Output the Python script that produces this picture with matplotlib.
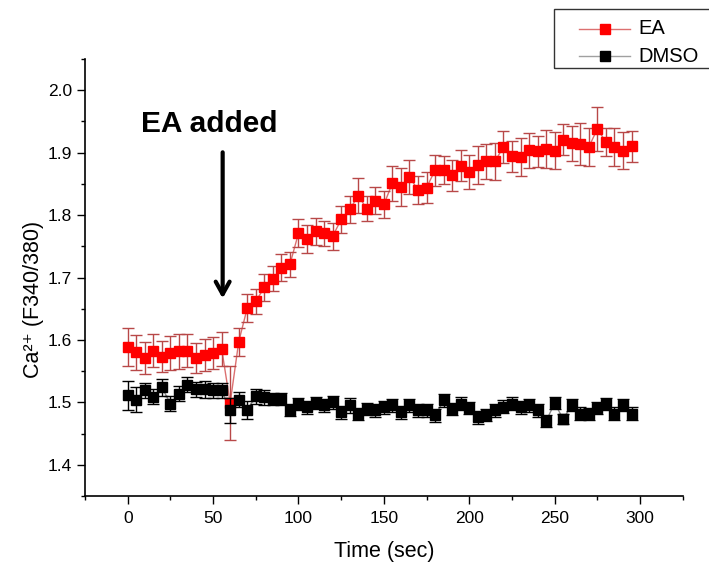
import matplotlib
matplotlib.use("Agg")
import matplotlib.pyplot as plt
from matplotlib.lines import Line2D
from matplotlib.patches import Rectangle
import numpy as np

plt.rcParams['font.family'] = ['Liberation Sans', 'DejaVu Sans']

time_sec = list(range(0, 300, 5))

ea_mean = [1.589, 1.580, 1.571, 1.583, 1.573, 1.579, 1.582, 1.583, 1.571, 1.576,
           1.579, 1.586, 1.499, 1.597, 1.651, 1.662, 1.684, 1.698, 1.716, 1.721,
           1.771, 1.762, 1.774, 1.771, 1.766, 1.793, 1.809, 1.831, 1.810, 1.823,
           1.817, 1.851, 1.845, 1.861, 1.840, 1.844, 1.872, 1.872, 1.864, 1.879,
           1.869, 1.880, 1.886, 1.886, 1.909, 1.894, 1.893, 1.904, 1.902, 1.906,
           1.903, 1.921, 1.915, 1.914, 1.909, 1.938, 1.917, 1.909, 1.903, 1.910]
ea_err = [0.030, 0.028, 0.025, 0.026, 0.025, 0.027, 0.028, 0.026, 0.024, 0.026,
          0.025, 0.027, 0.060, 0.022, 0.022, 0.020, 0.022, 0.020, 0.022, 0.020,
          0.022, 0.022, 0.022, 0.020, 0.022, 0.022, 0.022, 0.028, 0.020, 0.022,
          0.022, 0.028, 0.030, 0.028, 0.022, 0.025, 0.025, 0.022, 0.025, 0.025,
          0.028, 0.030, 0.028, 0.030, 0.025, 0.025, 0.030, 0.028, 0.025, 0.030,
          0.030, 0.025, 0.028, 0.033, 0.030, 0.035, 0.022, 0.031, 0.030, 0.025]

dmso_mean = [1.511, 1.504, 1.519, 1.509, 1.524, 1.498, 1.514, 1.528, 1.521, 1.521,
             1.519, 1.519, 1.487, 1.504, 1.488, 1.510, 1.508, 1.505, 1.505, 1.488,
             1.497, 1.492, 1.499, 1.495, 1.500, 1.484, 1.495, 1.481, 1.489, 1.487,
             1.492, 1.495, 1.484, 1.495, 1.487, 1.487, 1.479, 1.503, 1.489, 1.498,
             1.491, 1.476, 1.480, 1.487, 1.493, 1.498, 1.492, 1.495, 1.487, 1.470,
             1.499, 1.473, 1.496, 1.482, 1.481, 1.491, 1.497, 1.482, 1.496, 1.482]
dmso_err = [0.024, 0.020, 0.012, 0.012, 0.014, 0.012, 0.012, 0.012, 0.012, 0.014,
            0.012, 0.012, 0.020, 0.012, 0.014, 0.012, 0.012, 0.010, 0.010, 0.010,
            0.010, 0.010, 0.010, 0.010, 0.010, 0.010, 0.012, 0.010, 0.010, 0.010,
            0.010, 0.010, 0.010, 0.010, 0.010, 0.010, 0.010, 0.010, 0.010, 0.010,
            0.010, 0.010, 0.010, 0.010, 0.010, 0.010, 0.010, 0.010, 0.010, 0.010,
            0.010, 0.008, 0.010, 0.010, 0.010, 0.010, 0.010, 0.010, 0.010, 0.010]

series_labels = ['EA', 'DMSO']
xtick_vals = [0, 50, 100, 150, 200, 250, 300]
ytick_vals = [1.4, 1.5, 1.6, 1.7, 1.8, 1.9, 2.0]

W, H = 709, 569
fig = plt.figure(figsize=(W / 100, H / 100), dpi=100)
ax = fig.add_axes([85 / W, 1 - 496 / H, (682.75 - 85) / W, (496 - 59) / H])

EA_LINE = '#dc7070'
EA_ERR = '#b84848'
DM_LINE = '#8a8a8a'

ax.plot(time_sec, ea_mean, '-', color=EA_LINE, lw=1, zorder=1)
ax.errorbar(time_sec, ea_mean, yerr=ea_err, fmt='s', color='#ff0000', ms=7,
            ecolor=EA_ERR, elinewidth=1, capsize=4, capthick=1, zorder=2,
            linestyle='none')
ax.plot(time_sec, dmso_mean, '-', color=DM_LINE, lw=1, zorder=1)
ax.errorbar(time_sec, dmso_mean, yerr=dmso_err, fmt='s', color='black', ms=7,
            ecolor='black', elinewidth=1, capsize=4, capthick=1, zorder=3,
            linestyle='none')

# legend drawn in figure pixel coordinates (frame runs off the right edge)
def fx(px):
    return px / W

def fy(py):
    return 1 - py / H

fig.add_artist(Rectangle((fx(554), fy(68)), fx(400), (68 - 9) / H,
                         transform=fig.transFigure, fill=False,
                         edgecolor='#333333', lw=1))
rows = [(29, EA_LINE, '#ff0000'), (56, '#a0a0a0', 'black')]
for (py, lc, mc), lab in zip(rows, series_labels):
    fig.add_artist(Line2D([fx(579), fx(630)], [fy(py), fy(py)],
                          transform=fig.transFigure, color=lc, lw=1))
    fig.add_artist(Line2D([fx(605)], [fy(py)], transform=fig.transFigure,
                          marker='s', ms=7, mfc=mc, mec=mc, ls='none'))
    fig.text(fx(638), fy(py), lab, fontsize=14.5, ha='left', va='center')

ax.set_xlim(-25, 325)
ax.set_ylim(1.35, 2.05)
ax.set_xticks(xtick_vals)
ax.set_xticks(np.arange(-25, 326, 25), minor=True)
ax.set_yticks(ytick_vals)
ax.set_yticks(np.arange(1.35, 2.051, 0.05), minor=True)
ax.set_yticklabels([f'{v:.1f}' for v in ytick_vals])
ax.tick_params(axis='both', which='major', direction='out', length=6, width=1,
               labelsize=12.5)
ax.tick_params(axis='x', which='major', pad=5)
ax.tick_params(axis='both', which='minor', direction='out', length=3, width=1)
for s in ['top', 'right']:
    ax.spines[s].set_visible(False)
for s in ['left', 'bottom']:
    ax.spines[s].set_linewidth(1.2)

ax.set_xlabel('Time (sec)', fontsize=15.5)
ax.xaxis.set_label_coords(0.5, (496 - 541) / 437)
ax.set_ylabel('Ca²⁺ (F340/380)', fontsize=15.5)
ax.yaxis.set_label_coords((44 - 85) / 597.75, 0.45)

ax.annotate('', xy=(55.6, 1.662), xytext=(55.6, 1.905),
            arrowprops=dict(arrowstyle='->,head_length=0.9,head_width=0.5',
                            lw=3, color='black'))
ax.text(48, 1.946, 'EA added', fontsize=21.5, fontweight='bold', ha='center',
        va='center')

fig.savefig('out.png', dpi=100)
